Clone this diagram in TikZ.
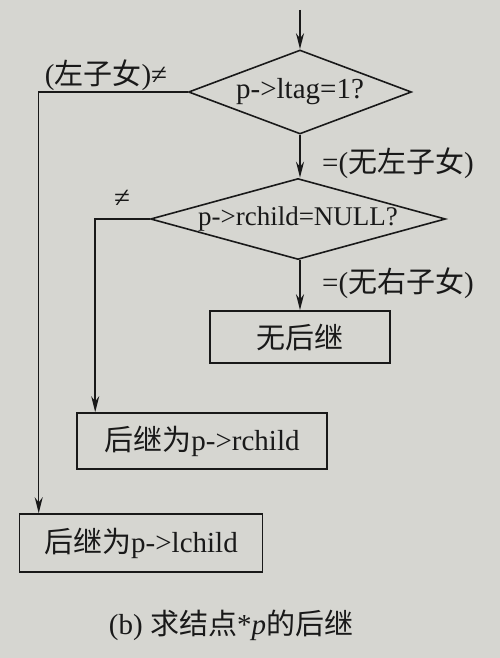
\documentclass[tikz,border=0pt]{standalone}
\usepackage{fontspec}
\setmainfont{Liberation Serif}
\newfontfamily\cjk{Noto Sans CJK SC}
\usetikzlibrary{shapes.geometric,arrows.meta,calc}
\definecolor{paper}{RGB}{214,214,209}
\definecolor{ink}{RGB}{25,25,25}
\tikzset{
  every node/.style={text=ink},
  txt/.style={font=\fontsize{29}{34}\selectfont, inner sep=0pt},
  decision/.style={shape=diamond, draw=ink, line width=1.6pt, inner sep=0pt, font=\fontsize{29}{34}\selectfont},
  procbox/.style={draw=ink, line width=1.6pt, inner sep=0pt, font=\fontsize{29}{34}\selectfont},
  conn/.style={draw=ink, line width=1.5pt},
  flow/.style={conn, -{Stealth[length=16pt,width=8pt]}}
}
\begin{document}
\begin{tikzpicture}[x=1pt,y=-1pt]
\fill[paper] (0,0) rectangle (500,658);
\useasboundingbox (0,0) rectangle (500,658);

\coordinate (start) at (300,10);
\node[decision, aspect=2.65, minimum width=223pt, minimum height=84pt] (d1) at (300,92) {p->ltag=1?};
\node[decision, aspect=3.64, minimum width=295pt, minimum height=81pt, font=\fontsize{27}{32}\selectfont] (d2) at (298,219) {p->rchild=NULL?};
\node[procbox, minimum width=180pt, minimum height=52pt] (b1) at (300,337) {\cjk 无后继};
\node[procbox, minimum width=250pt, minimum height=56pt] (b2) at (202,441) {{\cjk 后继为}p->rchild};
\node[procbox, minimum width=243pt, minimum height=58pt] (b3) at (141,543) {{\cjk 后继为}p->lchild};

\coordinate (b2in) at ($(b2.north west)+(19,0)$);
\coordinate (b3in) at ($(b3.north west)+(20,0)$);

\draw[flow] (start) -- (d1.north);
\draw[flow] (d1.south) -- (d2.north -| d1.south);
\draw[flow] (d2.south -| b1.north) -- (b1.north);
\draw[flow] (d2.west) -| (b2in);
\draw[flow] (d1.west) -| (b3in);

\node[txt] (l1) at (106,75) {({\cjk 左子女})≠};
\node[txt, anchor=west] (l2) at (322,163) {=({\cjk 无左子女})};
\node[txt] (l3) at (122,199) {≠};
\node[txt, anchor=west] (l4) at (322,283) {=({\cjk 无右子女})};
\node[txt] (cap) at (231,625) {(b) {\cjk 求结点}*\textit{p}{\cjk 的后继}};
\end{tikzpicture}
\end{document}
